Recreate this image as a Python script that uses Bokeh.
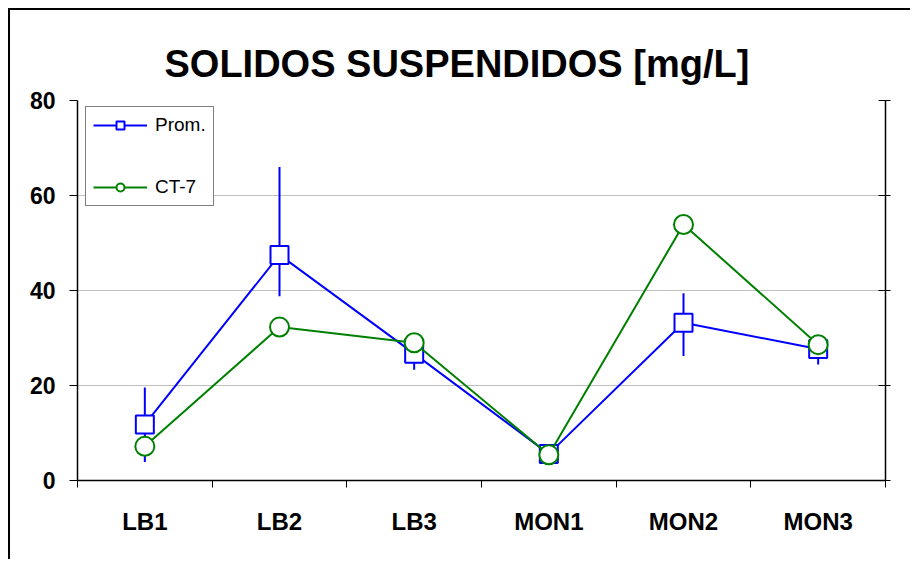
from bokeh.plotting import figure
from bokeh.models import (FixedTicker, LinearAxis, Range1d, Legend, LegendItem, Title)
from bokeh.embed import file_html
from bokeh.resources import INLINE

categories = ["LB1", "LB2", "LB3", "MON1", "MON2", "MON3"]
prom = [11.8, 47.5, 26.7, 5.6, 33.2, 27.7]
prom_hi = [19.6, 66.0, 29.5, 6.5, 39.4, 29.5]
prom_lo = [3.9, 38.8, 23.3, 4.7, 26.2, 24.4]
ct7 = [7.2, 32.3, 29.0, 5.4, 53.9, 28.6]
y_ticks = [0, 20, 40, 60, 80]
title_text = "SOLIDOS SUSPENDIDOS [mg/L]"

xs = [i + 0.5 for i in range(len(categories))]

p = figure(width=902, height=551, output_backend="svg", toolbar_location=None,
           x_range=Range1d(0, len(categories)), y_range=Range1d(0, 80),
           min_border_left=67, min_border_right=27, min_border_top=90, min_border_bottom=81,
           background_fill_color="white", border_fill_color="white")
p.styles = {"border-left": "2px solid black", "border-top": "2px solid black",
            "margin-left": "8px", "margin-top": "8px"}
p.outline_line_color = None

t = Title(text=title_text, align="left", offset=87, standoff=31,
          text_font="Liberation Sans", text_font_size="38px", text_font_style="bold",
          text_color="black")
p.title = t

# x axis
xa = p.xaxis[0]
xa.ticker = FixedTicker(ticks=xs, minor_ticks=list(range(len(categories) + 1)))
xa.major_label_overrides = {x: c for x, c in zip(xs, categories)}
xa.major_tick_line_color = None
xa.minor_tick_in = 0
xa.minor_tick_out = 7
xa.minor_tick_line_color = "black"
xa.minor_tick_line_width = 1
xa.axis_line_color = "black"
xa.axis_line_width = 1.5
xa.major_label_text_font = "Liberation Sans"
xa.major_label_text_font_size = "24px"
xa.major_label_text_font_style = "bold"
xa.major_label_text_color = "black"
xa.major_label_standoff = 20

# left y axis
ya = p.yaxis[0]
ya.ticker = FixedTicker(ticks=y_ticks)
ya.minor_tick_line_color = None
ya.major_tick_in = 0
ya.major_tick_out = 8
ya.major_tick_line_color = "black"
ya.axis_line_color = "black"
ya.axis_line_width = 1.5
ya.major_label_text_font = "Liberation Sans"
ya.major_label_text_font_size = "23px"
ya.major_label_text_font_style = "bold"
ya.major_label_text_color = "black"
ya.major_label_standoff = 14

# right y axis
ra = LinearAxis(ticker=FixedTicker(ticks=y_ticks))
ra.major_label_text_font_size = "0px"
ra.major_label_text_color = None
ra.minor_tick_line_color = None
ra.major_tick_in = 7
ra.major_tick_out = 5
ra.major_tick_line_color = "black"
ra.axis_line_color = "black"
ra.axis_line_width = 1.5
p.add_layout(ra, "right")

p.xgrid.grid_line_color = None
p.ygrid.ticker = FixedTicker(ticks=y_ticks)
p.ygrid.grid_line_color = "#c0c0c0"
p.ygrid.grid_line_width = 1

# error bars
p.segment(x0=xs, y0=prom_lo, x1=xs, y1=prom_hi, line_color="#0000ff", line_width=2)
# Prom series
l1 = p.line(xs, prom, line_color="#0000ff", line_width=2)
s1 = p.scatter(xs, prom, marker="square", size=18, line_color="#0000ff", line_width=2,
               fill_color="white")
# CT-7 series
l2 = p.line(xs, ct7, line_color="#008000", line_width=2)
s2 = p.scatter(xs, ct7, marker="circle", size=19, line_color="#008000", line_width=2,
               fill_color="white")

legend = Legend(items=[LegendItem(label="Prom.", renderers=[l1, s1]),
                       LegendItem(label="CT-7", renderers=[l2, s2])],
                location=(8, 274))
legend.label_text_font = "Liberation Sans"
legend.label_text_font_size = "19px"
legend.label_text_color = "black"
legend.glyph_width = 54
legend.glyph_height = 20
legend.label_height = 20
legend.label_standoff = 8
legend.spacing = 40
legend.padding = 7
legend.margin = 0
legend.border_line_color = "black"
legend.border_line_width = 1
legend.background_fill_color = "white"
legend.background_fill_alpha = 1
p.add_layout(legend)

open("out.html", "w").write(file_html(p, INLINE))
